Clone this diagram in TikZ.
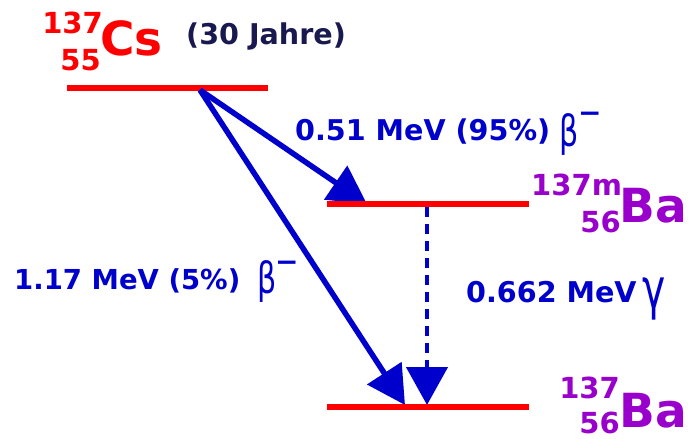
\documentclass[tikz,border=0pt]{standalone}
\usepackage{fontspec}
\setmainfont{DejaVu Sans}
\usetikzlibrary{arrows.meta}
\definecolor{lvred}{RGB}{255,0,0}
\definecolor{iso}{RGB}{153,0,204}
\definecolor{arr}{RGB}{0,0,204}
\definecolor{dnavy}{RGB}{25,25,80}
\begin{document}
\begin{tikzpicture}[x=1pt,y=-1pt,
  lvl/.style={draw=lvred,line width=6pt},
  betaarrow/.style={draw=arr,line width=5.5pt,-{Triangle[length=38pt,width=40pt]}},
  gamarrow/.style={draw=arr,line width=4.5pt,dash pattern=on 10pt off 7pt,-{Triangle[length=38pt,width=41pt]}},
  lbl/.style={inner sep=0pt,font=\fontsize{28.6}{30}\selectfont\bfseries,text=arr,anchor=base west},
  small/.style={inner sep=0pt,font=\fontsize{29}{30}\selectfont\bfseries},
  big/.style={inner sep=0pt,font=\fontsize{47}{49}\selectfont\bfseries,anchor=base west},
  greek/.style={inner sep=0pt,text=arr,anchor=base west},
  minus/.style={inner sep=0pt,text=arr,anchor=base west,font=\fontsize{28}{30}\selectfont\bfseries}]
\useasboundingbox (0,0) rectangle (689,439);
% level coordinates
\coordinate (csL) at (67,88);
\coordinate (csR) at (268,88);
\coordinate (mL) at (327,204);
\coordinate (mR) at (529,204);
\coordinate (gL) at (327,407);
\coordinate (gR) at (529,407);
\coordinate (src) at (200,90);
\coordinate (t1) at (367,204);
\coordinate (t2) at (405,405);
\coordinate (gs) at (427,207);
\coordinate (gt) at (427,405);
\draw[lvl] (csL) -- (csR);
\draw[betaarrow] (src) -- (t1);
\draw[betaarrow] (src) -- (t2);
\draw[gamarrow] (gs) -- (gt);
\draw[lvl] (mL) -- (mR);
\draw[lvl] (gL) -- (gR);
% Cs label
\node[small,text=lvred,anchor=base east] (cs137) at (103,33) {137};
\node[small,text=lvred,anchor=base east] (cs55) at (101,70) {55};
\node[big,text=lvred] (cs) at (100,55) {Cs};
\node[lbl,text=dnavy] (half) at (186,45) {(30 Jahre)};
% Ba-137m label
\node[small,text=iso,anchor=base west] (bam137) at (531,195) {137m};
\node[small,text=iso,anchor=base east] (bam56) at (621,232) {56};
\node[big,text=iso] (bam) at (619,222) {Ba};
% Ba-137 label
\node[small,text=iso,anchor=base east] (ba137) at (620,398) {137};
\node[small,text=iso,anchor=base east] (ba56) at (620,433) {56};
\node[big,text=iso] (ba) at (619,427) {Ba};
% transition labels
\node[lbl] (e1) at (295,140) {0.51 MeV (95\%)};
\node[greek] (b1) at (559,146) {\fontsize{43}{45}\selectfont\scalebox{0.7}[1]{β}};
\node[minus] (m1) at (578,122) {−};
\node[lbl,font=\fontsize{27.5}{30}\selectfont\bfseries] (e2) at (14,289) {1.17 MeV (5\%)};
\node[greek] (b2) at (257,293) {\fontsize{43}{45}\selectfont\scalebox{0.7}[1]{β}};
\node[minus] (m2) at (275,271) {−};
\node[lbl] (e3) at (466,302) {0.662 MeV};
\node[greek] (g3) at (642,308) {\fontsize{56}{58}\selectfont\scalebox{0.7}[1]{γ}};
\end{tikzpicture}
\end{document}
